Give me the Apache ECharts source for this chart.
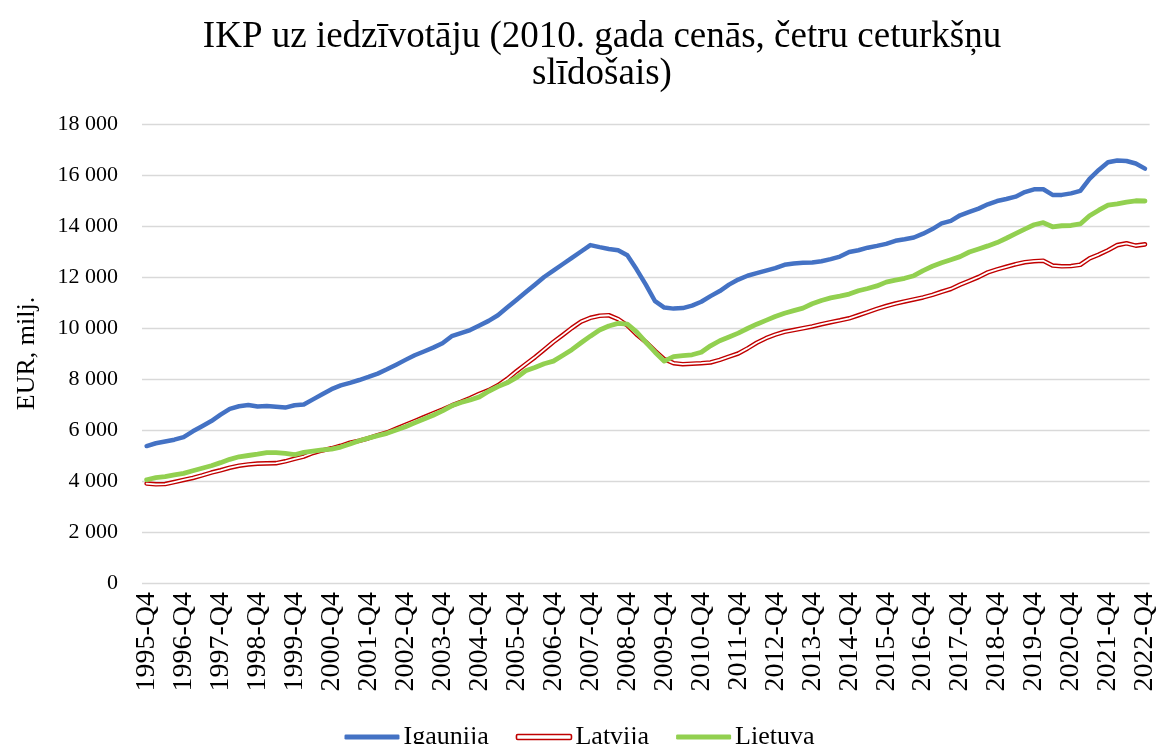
<!DOCTYPE html>
<html>
<head>
<meta charset="utf-8">
<script src="https://cdn.jsdelivr.net/npm/echarts@6/dist/echarts.min.js"></script>
<style>html,body{margin:0;padding:0;background:#fff;}#c{width:1159px;height:744px;}</style>
</head>
<body>
<div id="c"></div>
<script>
// Quarterly categories 1995-Q4 ... 2022-Q4
const categories = [];
categories.push('1995-Q4');
for (let y = 1996; y <= 2022; y++) { for (let q = 1; q <= 4; q++) categories.push(y + '-Q' + q); }

const igaunija = [
5370, 5480, 5550, 5620, 5720, 5950, 6150, 6350, 6600, 6830,
6930, 6980, 6920, 6940, 6910, 6880, 6970, 7000, 7200, 7400,
7600, 7750, 7850, 7960, 8080, 8210, 8380, 8560, 8750, 8930,
9080, 9230, 9400, 9680, 9800, 9920, 10100, 10280, 10500, 10800,
11100, 11400, 11700, 12000, 12250, 12500, 12750, 13000, 13250, 13170,
13100, 13050, 12850, 12300, 11700, 11050, 10800, 10760, 10780, 10880,
11030, 11250, 11450, 11700, 11900, 12050, 12150, 12250, 12350, 12480,
12530, 12560, 12570, 12620, 12700, 12800, 12980, 13050, 13150, 13220,
13300, 13420, 13480, 13550, 13700, 13880, 14100, 14200, 14420, 14550,
14680, 14850, 14980, 15060, 15150, 15330, 15440, 15440, 15220, 15220,
15280, 15380, 15850, 16200, 16500, 16570, 16550, 16450, 16250
];
const latvija = [
3900, 3870, 3880, 3960, 4040, 4120, 4220, 4330, 4420, 4520,
4600, 4650, 4680, 4690, 4700, 4770, 4870, 4960, 5100, 5200,
5280, 5380, 5500, 5580, 5680, 5800, 5900, 6050, 6200, 6350,
6500, 6650, 6800, 6960, 7100, 7250, 7420, 7560, 7750, 8000,
8300, 8580, 8850, 9150, 9450, 9720, 10000, 10250, 10400, 10480,
10500, 10350, 10100, 9750, 9450, 9100, 8780, 8620, 8580, 8600,
8620, 8650, 8750, 8880, 9000, 9200, 9420, 9600, 9740, 9850,
9920, 9990, 10060, 10150, 10230, 10300, 10380, 10500, 10620, 10750,
10860, 10960, 11040, 11120, 11200, 11300, 11420, 11530, 11700, 11850,
12000, 12180, 12300, 12400, 12500, 12580, 12620, 12640, 12450, 12420,
12430, 12480, 12730, 12880, 13050, 13250, 13320, 13230, 13280
];
const lietuva = [
4050, 4130, 4170, 4240, 4300, 4400, 4500, 4600, 4720, 4850,
4950, 5000, 5050, 5110, 5110, 5080, 5030, 5120, 5170, 5220,
5250, 5330, 5450, 5580, 5680, 5780, 5870, 6000, 6130, 6280,
6430, 6580, 6750, 6950, 7080, 7180, 7300, 7520, 7700, 7850,
8050, 8320, 8450, 8600, 8700, 8920, 9150, 9420, 9680, 9920,
10080, 10180, 10150, 9850, 9450, 9050, 8700, 8880, 8920, 8950,
9050, 9300, 9500, 9650, 9800, 9980, 10150, 10300, 10450, 10580,
10680, 10780, 10950, 11080, 11180, 11250, 11330, 11460, 11550, 11650,
11800, 11880, 11950, 12050, 12250, 12420, 12560, 12680, 12800, 12980,
13100, 13220, 13350, 13520, 13700, 13880, 14050, 14130, 13970, 14010,
14020, 14080, 14400, 14620, 14820, 14870, 14940, 14990, 14980
];
const seriesNames = ['Igaunija', 'Latvija', 'Lietuva'];
const titleText = 'IKP uz iedzīvotāju (2010. gada cenās, četru ceturkšņu\nslīdošais)';
const yAxisName = 'EUR, milj.';

const FONT = "'Liberation Serif', 'Times New Roman', serif";
const BLUE = '#4472C4', RED = '#C00000', GREEN = '#92D050';

const chart = echarts.init(document.getElementById('c'), null, {renderer: 'canvas'});
chart.setOption({
  animation: false,
  backgroundColor: '#fff',
  title: {
    text: titleText,
    left: 597, top: 14, textAlign: 'center',
    textStyle: {fontFamily: FONT, fontSize: 37, fontWeight: 'normal', color: '#000', lineHeight: 37}
  },
  grid: {left: 142, right: 9, top: 124, bottom: 161, containLabel: false},
  legend: {
    data: [
      {name: seriesNames[0], icon: 'roundRect', itemStyle: {color: BLUE}},
      {name: seriesNames[1], icon: 'roundRect', itemStyle: {color: '#fff', borderColor: RED, borderWidth: 1.6}},
      {name: seriesNames[2], icon: 'roundRect', itemStyle: {color: GREEN}}
    ],
    left: 'center', top: 719,
    itemWidth: 55, itemHeight: 5, itemGap: 27,
    textStyle: {fontFamily: FONT, fontSize: 26, color: '#000', padding: [0, 0, 0, -1]}
  },
  xAxis: {
    type: 'category', data: categories, boundaryGap: true,
    axisLine: {show: false}, axisTick: {show: false},
    axisLabel: {interval: 3, rotate: 90, margin: 9, fontFamily: FONT, fontSize: 28, color: '#000'},
    splitLine: {show: false}
  },
  yAxis: {
    type: 'value', min: 0, max: 18000, interval: 2000,
    name: yAxisName, nameLocation: 'middle', nameGap: 102, nameRotate: 90,
    nameTextStyle: {fontFamily: FONT, fontSize: 26, color: '#000'},
    axisLine: {show: false}, axisTick: {show: false},
    axisLabel: {margin: 24, fontFamily: FONT, fontSize: 22, color: '#000',
      formatter: v => String(v).replace(/\B(?=(\d{3})+(?!\d))/g, ' ')},
    splitLine: {lineStyle: {color: '#d9d9d9', width: 1.3}}
  },
  series: [
    {name: seriesNames[0], type: 'line', data: igaunija, symbol: 'none',
      lineStyle: {color: BLUE, width: 4.5, cap: 'round', join: 'round'}, itemStyle: {color: BLUE}},
    {name: seriesNames[1], type: 'line', data: latvija, symbol: 'none',
      lineStyle: {color: RED, width: 4.6, cap: 'round', join: 'round'}, itemStyle: {color: RED}},
    {name: 'Latvija_inner', type: 'line', data: latvija, symbol: 'none', silent: true,
      lineStyle: {color: '#fff', width: 1.8, cap: 'round', join: 'round'}, itemStyle: {color: '#fff'}},
    {name: seriesNames[2], type: 'line', data: lietuva, symbol: 'none',
      lineStyle: {color: GREEN, width: 4.8, cap: 'round', join: 'round'}, itemStyle: {color: GREEN}}
  ]
});
</script>
</body>
</html>
